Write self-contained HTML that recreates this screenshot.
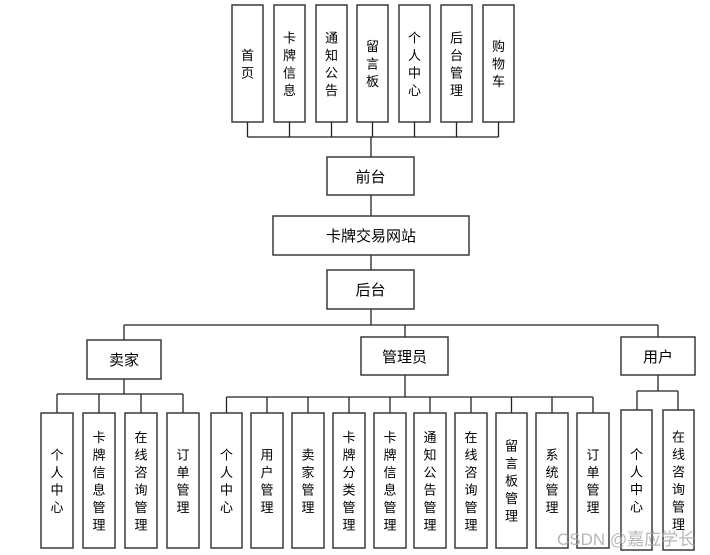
<!DOCTYPE html>
<html><head><meta charset="utf-8"><style>
html,body{margin:0;padding:0;background:#fff;}
svg{display:block;}
text{font-family:"Liberation Sans","Noto Sans CJK SC",sans-serif;font-size:14px;fill:#000;}
.v{font-size:13px;text-anchor:middle;}
.h{text-anchor:middle;font-size:15px;}
rect{fill:#fff;stroke:#3a3a3a;stroke-width:1.5;}
line{stroke:#222;stroke-width:1.3;}
</style></head><body>
<svg width="710" height="555" viewBox="0 0 710 555">
<line x1="247.5" y1="137" x2="498.5" y2="137"/>
<line x1="247.5" y1="122" x2="247.5" y2="137"/><line x1="289.5" y1="122" x2="289.5" y2="137"/><line x1="331.5" y1="122" x2="331.5" y2="137"/><line x1="372.5" y1="122" x2="372.5" y2="137"/><line x1="414.5" y1="122" x2="414.5" y2="137"/><line x1="456.5" y1="122" x2="456.5" y2="137"/><line x1="498.5" y1="122" x2="498.5" y2="137"/>
<line x1="371" y1="137" x2="371" y2="157"/>
<line x1="371" y1="195" x2="371" y2="216"/>
<line x1="371" y1="255" x2="371" y2="270"/>
<line x1="371" y1="309" x2="371" y2="325"/>
<line x1="124" y1="325" x2="658" y2="325"/>
<line x1="124" y1="325" x2="124" y2="340"/><line x1="405" y1="325" x2="405" y2="337"/><line x1="658" y1="325" x2="658" y2="337"/>
<line x1="124" y1="379" x2="124" y2="394"/>
<line x1="57" y1="394" x2="183" y2="394"/>
<line x1="57" y1="394" x2="57" y2="413"/><line x1="99" y1="394" x2="99" y2="413"/><line x1="141" y1="394" x2="141" y2="413"/><line x1="183" y1="394" x2="183" y2="413"/>
<line x1="405" y1="375" x2="405" y2="397"/>
<line x1="226.5" y1="397" x2="593" y2="397"/>
<line x1="226.5" y1="397" x2="226.5" y2="413"/><line x1="267" y1="397" x2="267" y2="413"/><line x1="308" y1="397" x2="308" y2="413"/><line x1="349" y1="397" x2="349" y2="413"/><line x1="390" y1="397" x2="390" y2="413"/><line x1="430" y1="397" x2="430" y2="413"/><line x1="471" y1="397" x2="471" y2="413"/><line x1="511.5" y1="397" x2="511.5" y2="413"/><line x1="552" y1="397" x2="552" y2="413"/><line x1="593" y1="397" x2="593" y2="413"/>
<line x1="658" y1="375" x2="658" y2="391"/>
<line x1="637" y1="391" x2="678" y2="391"/>
<line x1="637" y1="391" x2="637" y2="410"/><line x1="678" y1="391" x2="678" y2="410"/>

<rect x="232" y="5" width="31" height="117"/><rect x="274" y="5" width="31" height="117"/><rect x="316" y="5" width="31" height="117"/><rect x="357" y="5" width="31" height="117"/><rect x="399" y="5" width="31" height="117"/><rect x="441" y="5" width="31" height="117"/><rect x="483" y="5" width="31" height="117"/>
<text class="v"><tspan x="247.5" y="59.75">首</tspan><tspan x="247.5" dy="17.5">页</tspan></text>
<text class="v"><tspan x="289.5" y="42.25">卡</tspan><tspan x="289.5" dy="17.5">牌</tspan><tspan x="289.5" dy="17.5">信</tspan><tspan x="289.5" dy="17.5">息</tspan></text>
<text class="v"><tspan x="331.5" y="42.25">通</tspan><tspan x="331.5" dy="17.5">知</tspan><tspan x="331.5" dy="17.5">公</tspan><tspan x="331.5" dy="17.5">告</tspan></text>
<text class="v"><tspan x="372.5" y="51">留</tspan><tspan x="372.5" dy="17.5">言</tspan><tspan x="372.5" dy="17.5">板</tspan></text>
<text class="v"><tspan x="414.5" y="42.25">个</tspan><tspan x="414.5" dy="17.5">人</tspan><tspan x="414.5" dy="17.5">中</tspan><tspan x="414.5" dy="17.5">心</tspan></text>
<text class="v"><tspan x="456.5" y="42.25">后</tspan><tspan x="456.5" dy="17.5">台</tspan><tspan x="456.5" dy="17.5">管</tspan><tspan x="456.5" dy="17.5">理</tspan></text>
<text class="v"><tspan x="498.5" y="51">购</tspan><tspan x="498.5" dy="17.5">物</tspan><tspan x="498.5" dy="17.5">车</tspan></text>

<rect x="327" y="157" width="87" height="38"/><text class="h" x="370.5" y="182">前台</text>
<rect x="273" y="216" width="196" height="39"/><text class="h" x="371" y="241">卡牌交易网站</text>
<rect x="327" y="270" width="87" height="39"/><text class="h" x="370.5" y="295">后台</text>
<rect x="87" y="340" width="74" height="39"/><text class="h" x="124" y="365">卖家</text>
<rect x="361" y="337" width="87" height="38"/><text class="h" x="404.5" y="362">管理员</text>
<rect x="621" y="337" width="74" height="38"/><text class="h" x="658" y="362">用户</text>

<rect x="41" y="413" width="32" height="135"/><rect x="83" y="413" width="32" height="135"/><rect x="125" y="413" width="32" height="135"/><rect x="167" y="413" width="32" height="135"/>
<text class="v"><tspan x="57" y="459.25">个</tspan><tspan x="57" dy="17.5">人</tspan><tspan x="57" dy="17.5">中</tspan><tspan x="57" dy="17.5">心</tspan></text>
<text class="v"><tspan x="99" y="441.75">卡</tspan><tspan x="99" dy="17.5">牌</tspan><tspan x="99" dy="17.5">信</tspan><tspan x="99" dy="17.5">息</tspan><tspan x="99" dy="17.5">管</tspan><tspan x="99" dy="17.5">理</tspan></text>
<text class="v"><tspan x="141" y="441.75">在</tspan><tspan x="141" dy="17.5">线</tspan><tspan x="141" dy="17.5">咨</tspan><tspan x="141" dy="17.5">询</tspan><tspan x="141" dy="17.5">管</tspan><tspan x="141" dy="17.5">理</tspan></text>
<text class="v"><tspan x="183" y="459.25">订</tspan><tspan x="183" dy="17.5">单</tspan><tspan x="183" dy="17.5">管</tspan><tspan x="183" dy="17.5">理</tspan></text>

<rect x="211" y="413" width="31" height="135"/><rect x="251" y="413" width="32" height="135"/><rect x="292" y="413" width="32" height="135"/><rect x="333" y="413" width="32" height="135"/><rect x="374" y="413" width="32" height="135"/><rect x="414" y="413" width="32" height="135"/><rect x="455" y="413" width="32" height="135"/><rect x="496" y="413" width="31" height="135"/><rect x="536" y="413" width="32" height="135"/><rect x="577" y="413" width="32" height="135"/>
<text class="v"><tspan x="226.5" y="459.25">个</tspan><tspan x="226.5" dy="17.5">人</tspan><tspan x="226.5" dy="17.5">中</tspan><tspan x="226.5" dy="17.5">心</tspan></text>
<text class="v"><tspan x="267" y="459.25">用</tspan><tspan x="267" dy="17.5">户</tspan><tspan x="267" dy="17.5">管</tspan><tspan x="267" dy="17.5">理</tspan></text>
<text class="v"><tspan x="308" y="459.25">卖</tspan><tspan x="308" dy="17.5">家</tspan><tspan x="308" dy="17.5">管</tspan><tspan x="308" dy="17.5">理</tspan></text>
<text class="v"><tspan x="349" y="441.75">卡</tspan><tspan x="349" dy="17.5">牌</tspan><tspan x="349" dy="17.5">分</tspan><tspan x="349" dy="17.5">类</tspan><tspan x="349" dy="17.5">管</tspan><tspan x="349" dy="17.5">理</tspan></text>
<text class="v"><tspan x="390" y="441.75">卡</tspan><tspan x="390" dy="17.5">牌</tspan><tspan x="390" dy="17.5">信</tspan><tspan x="390" dy="17.5">息</tspan><tspan x="390" dy="17.5">管</tspan><tspan x="390" dy="17.5">理</tspan></text>
<text class="v"><tspan x="430" y="441.75">通</tspan><tspan x="430" dy="17.5">知</tspan><tspan x="430" dy="17.5">公</tspan><tspan x="430" dy="17.5">告</tspan><tspan x="430" dy="17.5">管</tspan><tspan x="430" dy="17.5">理</tspan></text>
<text class="v"><tspan x="471" y="441.75">在</tspan><tspan x="471" dy="17.5">线</tspan><tspan x="471" dy="17.5">咨</tspan><tspan x="471" dy="17.5">询</tspan><tspan x="471" dy="17.5">管</tspan><tspan x="471" dy="17.5">理</tspan></text>
<text class="v"><tspan x="511.5" y="450.5">留</tspan><tspan x="511.5" dy="17.5">言</tspan><tspan x="511.5" dy="17.5">板</tspan><tspan x="511.5" dy="17.5">管</tspan><tspan x="511.5" dy="17.5">理</tspan></text>
<text class="v"><tspan x="552" y="459.25">系</tspan><tspan x="552" dy="17.5">统</tspan><tspan x="552" dy="17.5">管</tspan><tspan x="552" dy="17.5">理</tspan></text>
<text class="v"><tspan x="593" y="459.25">订</tspan><tspan x="593" dy="17.5">单</tspan><tspan x="593" dy="17.5">管</tspan><tspan x="593" dy="17.5">理</tspan></text>

<rect x="621" y="410" width="31" height="140"/><rect x="663" y="410" width="31" height="140"/>
<text class="v"><tspan x="636.5" y="459">个</tspan><tspan x="636.5" dy="17.5">人</tspan><tspan x="636.5" dy="17.5">中</tspan><tspan x="636.5" dy="17.5">心</tspan></text>
<text class="v"><tspan x="678.5" y="441.5">在</tspan><tspan x="678.5" dy="17.5">线</tspan><tspan x="678.5" dy="17.5">咨</tspan><tspan x="678.5" dy="17.5">询</tspan><tspan x="678.5" dy="17.5">管</tspan><tspan x="678.5" dy="17.5">理</tspan></text>

<text x="557" y="545" style="font-size:17px;fill:#aaa;fill-opacity:0.85">CSDN @嘉应学长</text>
</svg>
</body></html>
